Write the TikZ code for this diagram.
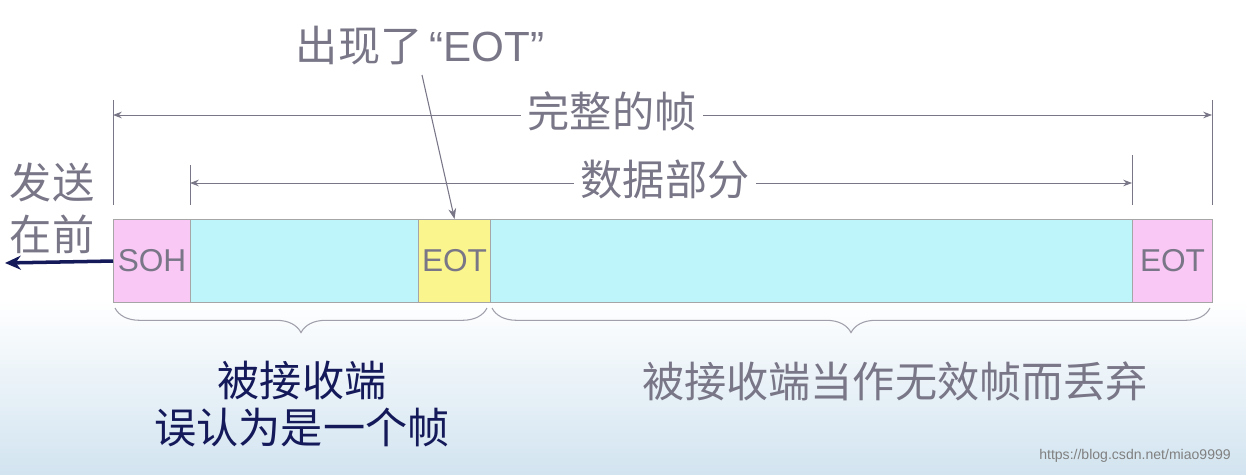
\documentclass[tikz,border=0pt]{standalone}
\usepackage{fontspec}
\setmainfont{Liberation Sans}
\newfontfamily\cjk{Noto Sans CJK SC}
\usetikzlibrary{decorations.pathreplacing,arrows.meta}
\definecolor{txtgray}{RGB}{120,118,135}
\definecolor{navy}{RGB}{20,25,90}
\definecolor{pinkc}{RGB}{250,200,245}
\definecolor{cyanc}{RGB}{190,245,250}
\definecolor{yelc}{RGB}{250,245,140}
\definecolor{sky}{RGB}{210,228,240}
\tikzset{
  px/.style={x=0.02cm,y=-0.02cm},
  cell/.style={draw=gray!70,line width=0.6pt,minimum height=1.66cm,inner sep=0,font=\fontsize{18}{18}\selectfont,text=txtgray},
  dim/.style={draw=txtgray,line width=0.5pt,{Stealth[length=5pt]}-{Stealth[length=5pt]}},
  tick/.style={draw=txtgray,line width=0.5pt},
  big/.style={font=\cjk\fontsize{24}{24}\selectfont},
  lab/.style={big,text=txtgray,fill=white,inner sep=4pt},
  brace/.style={draw=txtgray!70,line width=0.6pt,decorate,decoration={brace,mirror,amplitude=14pt}}
}
\begin{document}
\begin{tikzpicture}[px]
\fill[white] (0,0) rectangle (1246,300);
\shade[top color=white,bottom color=sky] (0,300) rectangle (1246,474);
\useasboundingbox (0,0) rectangle (1246,474);
\node[cell,fill=pinkc,minimum width=1.54cm,anchor=north west] (soh) at (113,219) {SOH};
\node[cell,fill=cyanc,minimum width=4.56cm,anchor=north west] (d1) at (190,219) {};
\node[cell,fill=yelc,minimum width=1.44cm,anchor=north west] (eot1) at (418,219) {EOT};
\node[cell,fill=cyanc,minimum width=12.84cm,anchor=north west] (d2) at (490,219) {};
\node[cell,fill=pinkc,minimum width=1.6cm,anchor=north west] (eot2) at (1132,219) {EOT};
% ticks
\coordinate (t1a) at (113,100); \coordinate (t1b) at (113,205);
\coordinate (t2a) at (1212,100); \coordinate (t2b) at (1212,205);
\coordinate (t3a) at (190,165); \coordinate (t3b) at (190,205);
\coordinate (t4a) at (1132,155); \coordinate (t4b) at (1132,205);
\draw[tick] (t1a)--(t1b); \draw[tick] (t2a)--(t2b);
\draw[tick] (t3a)--(t3b); \draw[tick] (t4a)--(t4b);
\coordinate (w1) at (113,115); \coordinate (w2) at (1212,115);
\draw[dim] (w1)--(w2);
\node[lab] (whole) at (612,111) {完整的帧};
\coordinate (p1) at (190,183); \coordinate (p2) at (1132,183);
\draw[dim] (p1)--(p2);
\node[lab] (data) at (665,179) {数据部分};
% send first
\node[big,text=txtgray] (send1) at (52,182) {发送};
\node[big,text=txtgray] (send2) at (52,234) {在前};
\coordinate (sa) at (5,263);
\draw[navy,line width=2pt,-{Stealth[length=9pt,width=8pt]}] (soh.west)--(sa);
% EOT appear
\node[font=\fontsize{24}{24}\selectfont,text=txtgray] (appear) at (420,46) {{\cjk 出现了}\,“EOT”};
\coordinate (ap) at (422,75);
\draw[txtgray,line width=0.6pt,-{Stealth[length=6pt]}] (ap)--(eot1.north);
% braces
\coordinate (b1) at (115,308); \coordinate (b2) at (487,308);
\coordinate (b3) at (492,308); \coordinate (b4) at (1210,308);
\draw[brace] (b1)--(b2);
\draw[brace] (b3)--(b4);
\node[big,text=navy] (mis1) at (302,381) {被接收端};
\node[big,text=navy] (mis2) at (302,428) {误认为是一个帧};
\node[big,text=txtgray] (disc) at (895,381) {被接收端当作无效帧而丢弃};
\node[font=\fontsize{8}{8}\selectfont,text=gray] (wm) at (1135,456) {https://blog.csdn.net/miao9999};
\end{tikzpicture}
\end{document}
